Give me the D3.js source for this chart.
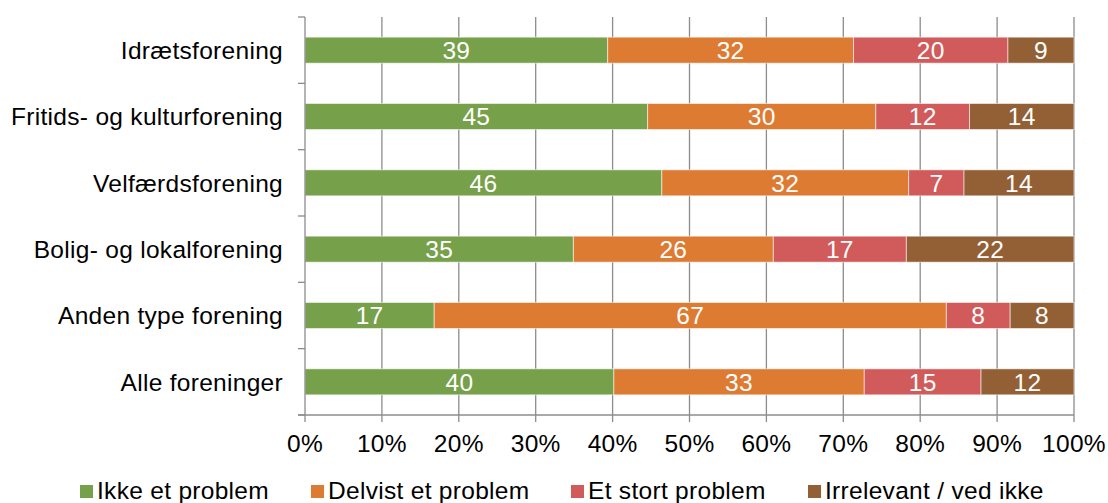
<!DOCTYPE html>
<html>
<head>
<meta charset="utf-8">
<script src="https://cdn.jsdelivr.net/npm/d3@7"></script>
<style>
  html, body { margin: 0; padding: 0; background: #fff; }
  svg { display: block; font-family: "Liberation Sans", Arial, sans-serif; }
  text { letter-spacing: 0.3px; }
</style>
</head>
<body>
<svg id="chart" width="1108" height="503"></svg>
<script>
const categories = ["Idrætsforening", "Fritids- og kulturforening", "Velfærdsforening", "Bolig- og lokalforening", "Anden type forening", "Alle foreninger"];
const seriesNames = ["Ikke et problem", "Delvist et problem", "Et stort problem", "Irrelevant / ved ikke"];
const ikkeEtProblem   = [39.4, 44.6, 46.4, 34.9, 16.8, 40.2];
const delvistProblem  = [32.0, 29.7, 32.1, 26.0, 66.6, 32.6];
const etStortProblem  = [20.1, 12.2, 7.2, 17.3, 8.3, 15.2];
const irrelevant      = [8.6, 13.6, 14.3, 21.8, 8.3, 12.1];
const xTicks = [0, 0.1, 0.2, 0.3, 0.4, 0.5, 0.6, 0.7, 0.8, 0.9, 1.0];
const colors = ["#77A04B", "#DE7B33", "#D15B5B", "#935F35"];

const seriesValues = [ikkeEtProblem, delvistProblem, etStortProblem, irrelevant];
const rows = categories.map((c, i) => {
  const r = { category: c };
  seriesNames.forEach((s, j) => r[s] = seriesValues[j][i]);
  return r;
});

const svg = d3.select("#chart");
const mLeft = 305, mRight = 1074, mTop = 17, mBottom = 415;
const fontSize = 24.5;

const x = d3.scaleLinear().domain([0, 1]).range([mLeft, mRight]);
const y = d3.scaleBand().domain(categories).range([mTop, mBottom]).paddingInner(0.608).paddingOuter(0.304);
const color = d3.scaleOrdinal().domain(seriesNames).range(colors);

const stacked = d3.stack().keys(seriesNames).offset(d3.stackOffsetExpand)(rows);

// gridlines
svg.append("g").selectAll("line").data(xTicks.slice(1)).join("line")
  .attr("x1", d => x(d)).attr("x2", d => x(d))
  .attr("y1", mTop).attr("y2", mBottom)
  .attr("stroke", "#8c8c8c").attr("stroke-width", 1.3);

// bars
const layers = svg.append("g").selectAll("g").data(stacked).join("g")
  .attr("fill", d => color(d.key));
layers.selectAll("rect").data(d => d).join("rect")
  .attr("x", d => x(d[0]))
  .attr("y", d => y(d.data.category))
  .attr("width", d => x(d[1]) - x(d[0]))
  .attr("height", y.bandwidth())
  .attr("stroke", "rgba(255,255,255,0.55)")
  .attr("stroke-width", 1);

// data labels
const fmt = d3.format(".0f");
svg.append("g").selectAll("g").data(stacked).join("g")
  .each(function(layer) {
    d3.select(this).selectAll("text").data(layer.map(d => ({ d, key: layer.key }))).join("text")
      .attr("x", o => (x(o.d[0]) + x(o.d[1])) / 2)
      .attr("y", o => y(o.d.data.category) + y.bandwidth() / 2)
      .attr("dy", "0.36em")
      .attr("text-anchor", "middle")
      .attr("fill", "#fff")
      .attr("font-size", fontSize)
      .text(o => fmt(o.d.data[o.key]));
  });

// left axis
const yAxis = svg.append("g");
yAxis.append("line").attr("x1", mLeft).attr("x2", mLeft).attr("y1", mTop).attr("y2", mBottom)
  .attr("stroke", "#8c8c8c").attr("stroke-width", 1.3);
const boundaries = categories.map(c => y(c) - y.step() * y.paddingInner() / 2).concat([mBottom]);
yAxis.selectAll("line.tick").data(boundaries).join("line").attr("class", "tick")
  .attr("x1", mLeft - 7).attr("x2", mLeft).attr("y1", d => d).attr("y2", d => d)
  .attr("stroke", "#8c8c8c").attr("stroke-width", 1.3);
yAxis.selectAll("text").data(categories).join("text")
  .attr("x", 283)
  .attr("y", d => y(d) + y.bandwidth() / 2)
  .attr("dy", "0.36em")
  .attr("text-anchor", "end")
  .attr("fill", "#000")
  .attr("font-size", fontSize)
  .text(d => d);

// bottom axis
const xAxis = svg.append("g");
xAxis.append("line").attr("x1", mLeft - 7).attr("x2", mRight).attr("y1", mBottom).attr("y2", mBottom)
  .attr("stroke", "#8c8c8c").attr("stroke-width", 1.3);
xAxis.selectAll("line.tick").data(xTicks).join("line").attr("class", "tick")
  .attr("x1", d => x(d)).attr("x2", d => x(d)).attr("y1", mBottom).attr("y2", mBottom + 7)
  .attr("stroke", "#8c8c8c").attr("stroke-width", 1.3);
xAxis.selectAll("text").data(xTicks).join("text")
  .attr("x", d => x(d))
  .attr("y", 452)
  .attr("text-anchor", "middle")
  .attr("fill", "#000")
  .attr("font-size", fontSize)
  .text(d3.format(".0%"));

// legend
const legendX = [80, 311, 571, 808];
const legend = svg.append("g").selectAll("g").data(seriesNames).join("g")
  .attr("transform", (d, i) => `translate(${legendX[i]},0)`);
legend.append("rect").attr("x", 0).attr("y", 485).attr("width", 13).attr("height", 13)
  .attr("fill", d => color(d));
legend.append("text").attr("x", 17).attr("y", 499)
  .attr("fill", "#000").attr("font-size", fontSize)
  .text(d => d);
</script>
</body>
</html>
